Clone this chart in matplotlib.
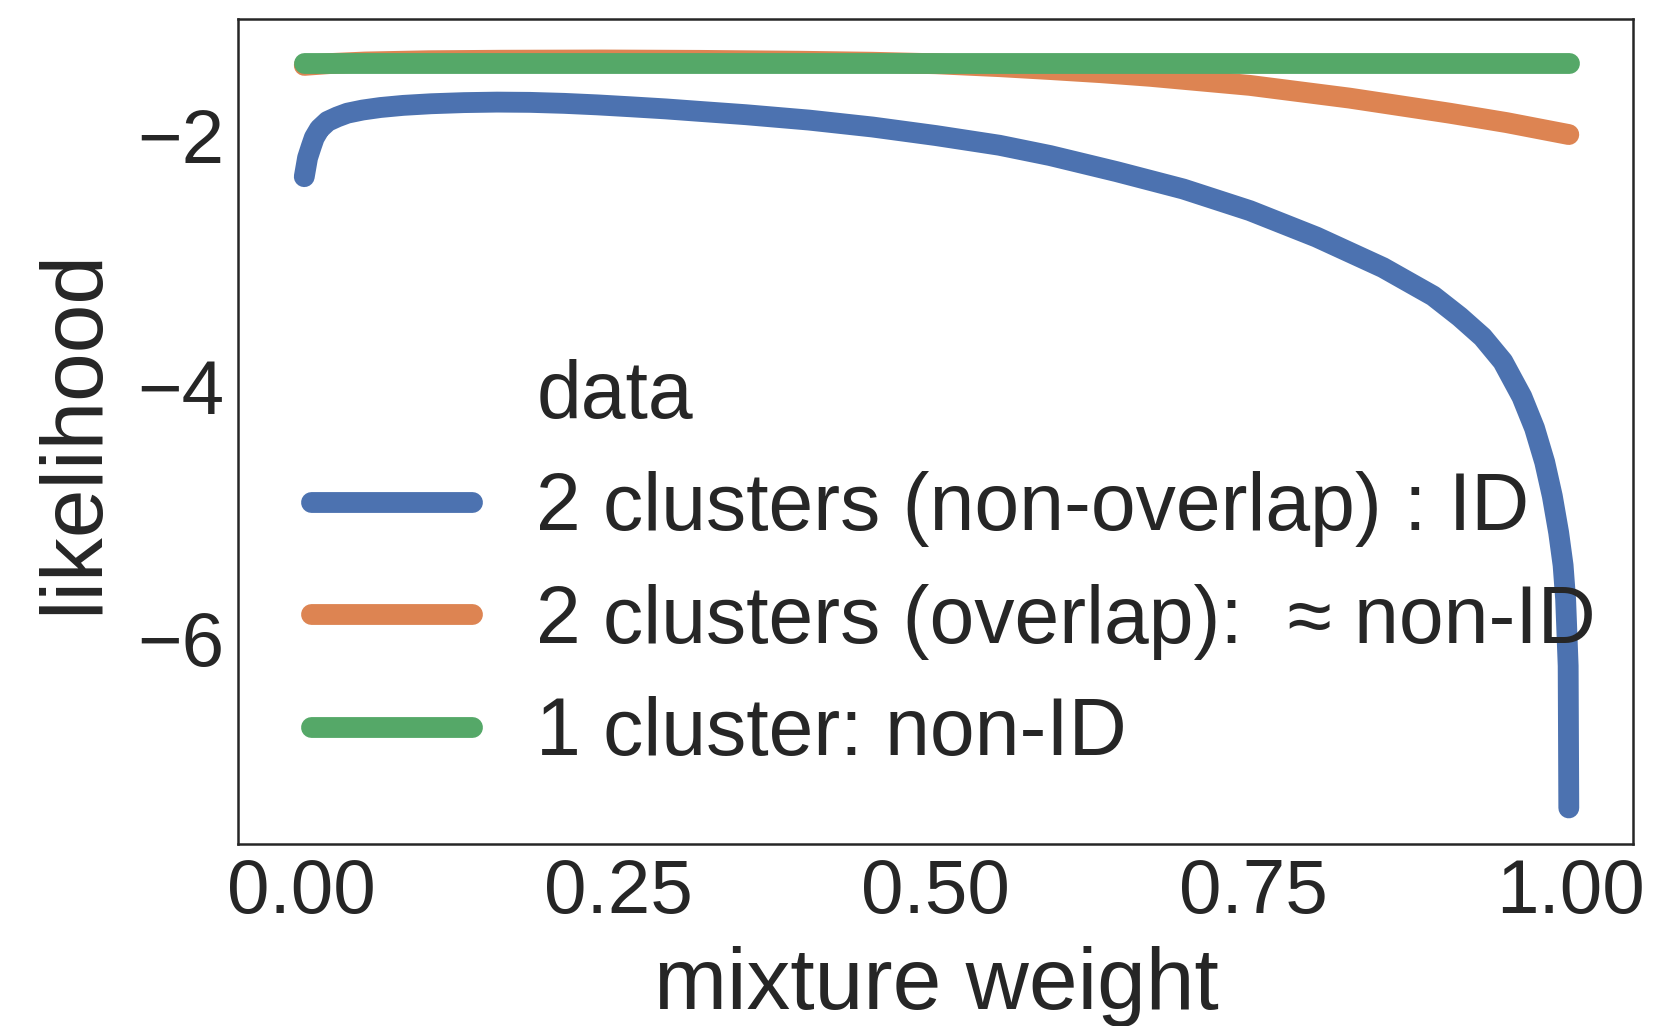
import numpy as np
import matplotlib.pyplot as plt
from matplotlib.lines import Line2D

# values
x_blue = [0.002, 0.0046, 0.0075, 0.0099, 0.014, 0.0204, 0.028, 0.036, 0.048, 0.062, 0.08, 0.102,
          0.128, 0.154, 0.18, 0.207, 0.233, 0.259, 0.287, 0.314, 0.35, 0.40, 0.45, 0.50, 0.55,
          0.59, 0.6425, 0.695, 0.7475, 0.80, 0.8525, 0.892, 0.913, 0.931, 0.947, 0.962, 0.972,
          0.980, 0.986, 0.991, 0.9945, 0.9965, 0.9985, 0.999]
y_blue = [-2.33, -2.18, -2.09, -2.02, -1.95, -1.89, -1.855, -1.825, -1.80, -1.78, -1.763, -1.75,
          -1.741, -1.737, -1.739, -1.747, -1.759, -1.774, -1.791, -1.811, -1.837, -1.88, -1.935,
          -2.003, -2.08, -2.162, -2.29, -2.428, -2.60, -2.81, -3.053, -3.278, -3.444, -3.605,
          -3.80, -4.08, -4.33, -4.60, -4.87, -5.16, -5.42, -5.69, -6.22, -7.35]

x_orange = [0.002, 0.023, 0.05, 0.1, 0.157, 0.236, 0.314, 0.393, 0.45, 0.5, 0.55, 0.59, 0.63,
            0.669, 0.7475, 0.826, 0.905, 0.95, 0.984, 0.999]
y_orange = [-1.445, -1.43, -1.418, -1.408, -1.404, -1.402, -1.405, -1.412, -1.42, -1.432,
            -1.455, -1.478, -1.503, -1.532, -1.604, -1.705, -1.825, -1.90, -1.966, -1.995]

x_green = [0.002, 0.999]
y_green = [-1.427, -1.427]

labels = ['2 clusters (non-overlap) : ID', '2 clusters (overlap):  \u2248 non-ID', '1 cluster: non-ID']
colors = ['#4C72B0', '#DD8452', '#55A868']

plt.rcParams['font.family'] = ['Liberation Sans', 'DejaVu Sans']
plt.rcParams['text.color'] = '.15'
plt.rcParams['axes.labelcolor'] = '.15'
plt.rcParams['xtick.color'] = '.15'
plt.rcParams['ytick.color'] = '.15'

fig = plt.figure(figsize=(16.55, 10.26), dpi=100)
ax = fig.add_axes([0.144, 0.177, 0.843, 0.804])

lw = 15
ax.plot(x_blue, y_blue, color=colors[0], lw=lw, solid_capstyle='round', solid_joinstyle='round')
ax.plot(x_orange, y_orange, color=colors[1], lw=lw, solid_capstyle='round', solid_joinstyle='round')
ax.plot(x_green, y_green, color=colors[2], lw=lw, solid_capstyle='round', solid_joinstyle='round')

ax.set_xlim(-0.05, 1.05)
ax.set_ylim(-7.64, -1.08)
ax.set_xticks([0, 0.25, 0.5, 0.75, 1.0])
ax.set_xticklabels(['0.00', '0.25', '0.50', '0.75', '1.00'])
ax.set_yticks([-2, -4, -6])
ax.set_yticklabels(['\u22122', '\u22124', '\u22126'])
ax.tick_params(length=0, labelsize=55, pad=10)

for s in ax.spines.values():
    s.set_color('.15')
    s.set_linewidth(1.8)

ax.set_xlabel('mixture weight', fontsize=63, labelpad=12)
ax.set_ylabel('likelihood', fontsize=63, labelpad=16)

handles = [Line2D([], [], color='none')]
for c in colors:
    handles.append(Line2D([], [], color=c, lw=lw, solid_capstyle='round'))
ax.legend(handles, ['data'] + labels, loc='lower left', frameon=False, fontsize=58,
          labelspacing=0.45, handlelength=2.0)

fig.savefig('out.png', dpi=100)
